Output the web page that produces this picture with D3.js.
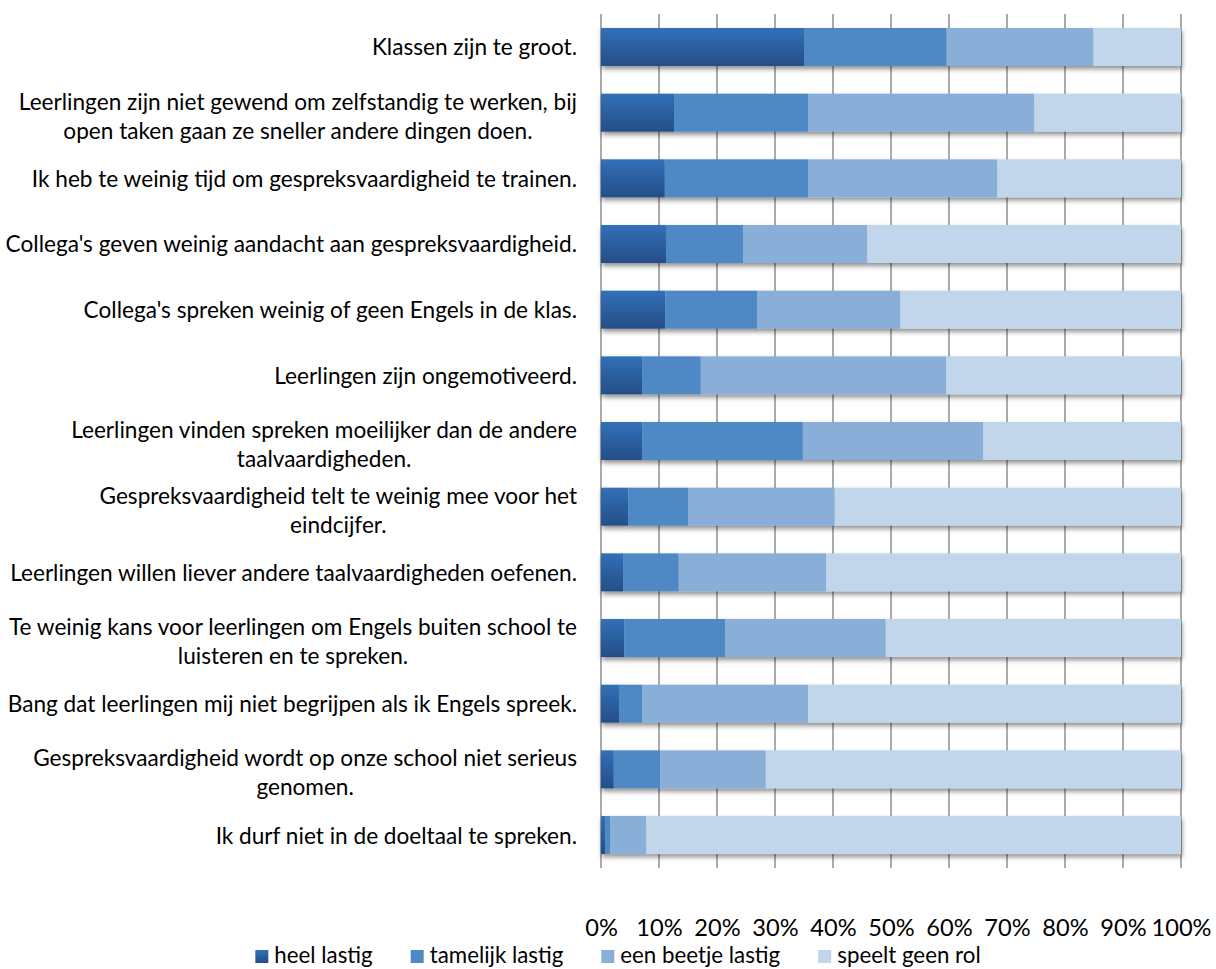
<!DOCTYPE html>
<html>
<head>
<meta charset="utf-8">
<script src="https://cdn.jsdelivr.net/npm/d3@7"></script>
<style>
body { margin: 0; background: #fff; }
text { font-family: Lato, "Open Sans", sans-serif; fill: #000; }
</style>
</head>
<body>
<svg width="1216" height="969"></svg>
<script>
// categories, top to bottom ("\n" = line break in the label)
var categories = [
    "Klassen zijn te groot.",
    "Leerlingen zijn niet gewend om zelfstandig te werken, bij\nopen taken gaan ze sneller andere dingen doen.",
    "Ik heb te weinig tijd om gespreksvaardigheid te trainen.",
    "Collega's geven weinig aandacht aan gespreksvaardigheid.",
    "Collega's spreken weinig of geen Engels in de klas.",
    "Leerlingen zijn ongemotiveerd.",
    "Leerlingen vinden spreken moeilijker dan de andere\ntaalvaardigheden.",
    "Gespreksvaardigheid telt te weinig mee voor het\neindcijfer.",
    "Leerlingen willen liever andere taalvaardigheden oefenen.",
    "Te weinig kans voor leerlingen om Engels buiten school te\nluisteren en te spreken.",
    "Bang dat leerlingen mij niet begrijpen als ik Engels spreek.",
    "Gespreksvaardigheid wordt op onze school niet serieus\ngenomen.",
    "Ik durf niet in de doeltaal te spreken."
];

var seriesNames = ["heel lastig", "tamelijk lastig", "een beetje lastig", "speelt geen rol"];

// percentages per category (same order as categories)
var heelLastig     = [35.0, 12.6, 11.0, 11.2, 11.1,  7.1,  7.1,  4.7,  3.8,  4.0,  3.1,  2.2,  0.7];
var tamelijkLastig = [24.6, 23.1, 24.7, 13.3, 15.8, 10.1, 27.7, 10.3,  9.6, 17.4,  4.0,  8.0,  0.9];
var beetjeLastig   = [25.3, 39.0, 32.6, 21.4, 24.7, 42.3, 31.1, 25.3, 25.4, 27.7, 28.6, 18.2,  6.2];
var geenRol        = [15.1, 25.3, 31.7, 54.1, 48.4, 40.5, 34.1, 59.7, 61.2, 50.9, 64.3, 71.6, 92.2];

var tickValues = [0, 10, 20, 30, 40, 50, 60, 70, 80, 90, 100];

var colors = ["url(#heelGrad)", "#4f89c5", "#89afd8", "#c2d6eb"];

var svg = d3.select("svg"),
    plot = {left: 601, right: 1181, top: 14, bottom: 868};

var defs = svg.append("defs");
var grad = defs.append("linearGradient")
    .attr("id", "heelGrad")
    .attr("x1", 0).attr("y1", 0).attr("x2", 0).attr("y2", 1);
grad.append("stop").attr("offset", "0%").attr("stop-color", "#3270b8");
grad.append("stop").attr("offset", "100%").attr("stop-color", "#244e87");

var shadow = defs.append("filter")
    .attr("id", "shadow")
    .attr("x", "-5%").attr("y", "-30%").attr("width", "110%").attr("height", "170%");
shadow.append("feDropShadow")
    .attr("dx", 1).attr("dy", 3)
    .attr("stdDeviation", 2.5)
    .attr("flood-color", "#000")
    .attr("flood-opacity", 0.45);

// helper: font size so that a string gets a given width
var probe = svg.append("text").attr("font-size", 20);
function fitSize(str, width) {
    probe.text(str);
    return 20 * width / probe.node().getComputedTextLength();
}
function textWidth(str, size) {
    probe.attr("font-size", size).text(str);
    var w = probe.node().getComputedTextLength();
    probe.attr("font-size", 20);
    return w;
}

var labelSize = fitSize("Leerlingen willen liever andere taalvaardigheden oefenen.", 567);
var tickSize = fitSize("100%", 60);
var legendSize = fitSize("een beetje lastig", 160);

var x = d3.scaleLinear()
    .domain([0, 100])
    .range([plot.left, plot.right]);
var y = d3.scaleBand()
    .domain(d3.range(categories.length))
    .range([plot.top, plot.bottom])
    .paddingInner(0.4216)
    .paddingOuter(0.213);

// gridlines
svg.append("g")
    .selectAll("line")
    .data(tickValues)
    .enter()
    .append("line")
    .attr("x1", function(d) { return x(d); })
    .attr("x2", function(d) { return x(d); })
    .attr("y1", plot.top)
    .attr("y2", plot.bottom)
    .attr("stroke", "#878787")
    .attr("stroke-width", 1.4);

// stacked bars
var table = categories.map(function(c, i) {
    return {i: i, a: heelLastig[i], b: tamelijkLastig[i], c: beetjeLastig[i], d: geenRol[i]};
});
var stack = d3.stack().keys(["a", "b", "c", "d"]);
var layers = stack(table);

var bars = svg.append("g").attr("filter", "url(#shadow)");
bars.selectAll("g")
    .data(layers)
    .enter()
    .append("g")
    .attr("fill", function(d, k) { return colors[k]; })
    .selectAll("rect")
    .data(function(d) { return d; })
    .enter()
    .append("rect")
    .attr("x", function(d) { return x(d[0]); })
    .attr("y", function(d) { return y(d.data.i); })
    .attr("width", function(d) { return x(d[1]) - x(d[0]); })
    .attr("height", y.bandwidth());

// category labels: block right-aligned, lines centred within the block
var lineH = 29;
var labels = svg.append("g").attr("font-size", labelSize);
categories.forEach(function(c, i) {
    var lines = c.split("\n");
    var w = d3.max(lines, function(l) { return textWidth(l, labelSize); });
    var cx = 577 - w / 2;
    var cy = y(i) + y.bandwidth() / 2 + (lines.length > 1 ? 3 : 0);
    lines.forEach(function(l, j) {
        labels.append("text")
            .attr("x", cx)
            .attr("y", cy + (j - (lines.length - 1) / 2) * lineH)
            .attr("text-anchor", "middle")
            .attr("dominant-baseline", "central")
            .text(l);
    });
});

// value axis labels
var xAxis = d3.axisBottom(x)
    .tickValues(tickValues)
    .tickFormat(function(d) { return d + "%"; })
    .tickSize(0)
    .tickPadding(0);
var axisG = svg.append("g")
    .attr("transform", "translate(0," + 928 + ")")
    .call(xAxis);
axisG.select(".domain").remove();
axisG.selectAll("text")
    .attr("font-family", "Lato, 'Open Sans', sans-serif")
    .attr("font-size", tickSize)
    .attr("fill", "#000")
    .attr("dy", "0.35em");

// legend
var legend = svg.append("g").attr("class", "legend").attr("font-size", legendSize);
var sq = 13, gapText = 6, gapItem = 38;
var widths = seriesNames.map(function(s) { return textWidth(s, legendSize); });
var total = d3.sum(widths) + seriesNames.length * (sq + gapText) + (seriesNames.length - 1) * gapItem;
var lx = 618 - total / 2;
seriesNames.forEach(function(s, k) {
    legend.append("rect")
        .attr("x", lx)
        .attr("y", 950)
        .attr("width", sq)
        .attr("height", sq)
        .attr("fill", colors[k]);
    legend.append("text")
        .attr("x", lx + sq + gapText)
        .attr("y", 963)
        .text(s);
    lx += sq + gapText + widths[k] + gapItem;
});

probe.remove();
</script>
</body>
</html>
